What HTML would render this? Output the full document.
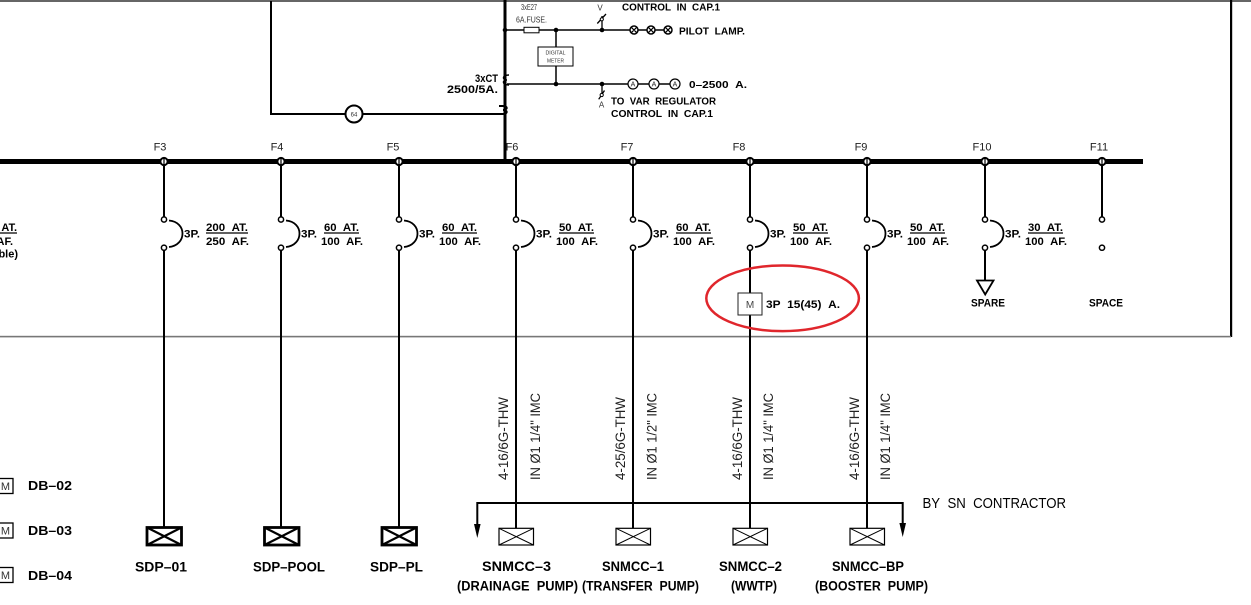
<!DOCTYPE html>
<html><head><meta charset="utf-8">
<style>
html,body{margin:0;padding:0;background:#fff;}
svg{display:block;}
text{font-family:"Liberation Sans",Arial,sans-serif;}
.b{font-weight:bold;fill:#000;}
.r{fill:#222;}
.ln{stroke:#000;fill:none;}
</style></head><body>
<svg width="1251" height="605" viewBox="0 0 1251 605" xmlns="http://www.w3.org/2000/svg">
<rect width="1251" height="605" fill="#fff"/>

<!-- frame -->
<rect x="0" y="0" width="1251" height="2" fill="#666"/>
<rect x="1230" y="0" width="2.2" height="337" fill="#000"/>
<rect x="0" y="335.8" width="1231" height="1.6" fill="#777"/>

<!-- feeder labels (drawn before main vertical so F6 is overlapped) -->
<g font-size="11" class="r" text-anchor="middle">
<text x="160" y="150.5">F3</text>
<text x="277" y="150.5">F4</text>
<text x="393" y="150.5">F5</text>
<text x="512" y="150.5">F6</text>
<text x="627" y="150.5">F7</text>
<text x="739" y="150.5">F8</text>
<text x="861" y="150.5">F9</text>
<text x="982" y="150.5">F10</text>
<text x="1099" y="150.5">F11</text>
</g>

<!-- bus -->
<rect x="0" y="159" width="1143" height="5" fill="#000"/>

<!-- upper left loop with 64 relay -->
<path class="ln" stroke-width="2" d="M271,1 V114 H503"/>
<circle cx="354" cy="114" r="8.5" fill="#fff" stroke="#000" stroke-width="2"/>
<text x="354" y="116.3" font-size="6" text-anchor="middle" fill="#333">64</text>

<!-- main vertical -->
<rect x="503.5" y="0" width="3" height="161" fill="#000"/>
<path class="ln" stroke-width="2" d="M499,106 H503 C508,106 508,110 503,110 C508,110 508,114 503,114 H499"/>

<!-- top circuit y=30 -->
<path class="ln" stroke-width="1.5" d="M505,30 H524 M539,30 H668"/>
<rect x="524" y="27.3" width="15" height="5.5" fill="#fff" stroke="#000" stroke-width="1"/>
<text x="529" y="10" font-size="8" fill="#333" text-anchor="middle" textLength="16" lengthAdjust="spacingAndGlyphs">3xE27</text>
<text x="531.5" y="22.5" font-size="8" fill="#333" text-anchor="middle" textLength="31" lengthAdjust="spacingAndGlyphs">6A.FUSE.</text>
<!-- digital meter -->
<path class="ln" stroke-width="1.5" d="M556,30 V84"/>
<rect x="538" y="47" width="35" height="19" fill="#fff" stroke="#000" stroke-width="1"/>
<text x="555.5" y="54.3" font-size="5.5" fill="#333" text-anchor="middle" textLength="20" lengthAdjust="spacingAndGlyphs">DIGITAL</text>
<text x="555.5" y="62.3" font-size="5.5" fill="#333" text-anchor="middle" textLength="17" lengthAdjust="spacingAndGlyphs">METER</text>
<!-- V meter -->
<path class="ln" stroke-width="1.3" d="M602,30 V16 M597.3,23.5 L606,14"/>
<circle cx="601.8" cy="19.3" r="1.6" fill="#fff" stroke="#000" stroke-width="1"/>
<text x="600" y="10.5" font-size="8" fill="#333" text-anchor="middle">V</text>
<!-- pilot lamps -->
<g stroke="#000" stroke-width="1.5" fill="#fff">
<circle cx="634" cy="30" r="4"/><circle cx="651" cy="30" r="4"/><circle cx="668" cy="30" r="4"/>
</g>
<path class="ln" stroke-width="1.2" d="M631.2,27.2 l5.6,5.6 M636.8,27.2 l-5.6,5.6 M648.2,27.2 l5.6,5.6 M653.8,27.2 l-5.6,5.6 M665.2,27.2 l5.6,5.6 M670.8,27.2 l-5.6,5.6"/>
<text x="622" y="10.5" font-size="10.5" class="b" textLength="98" lengthAdjust="spacingAndGlyphs">CONTROL&#160;&#160;IN&#160;&#160;CAP.1</text>
<text x="679" y="34.5" font-size="10.5" class="b" textLength="66" lengthAdjust="spacingAndGlyphs">PILOT&#160;&#160;LAMP.</text>

<!-- CT & ammeter line y=84 -->
<path class="ln" stroke-width="1.5" d="M509,75 C502,75 502,80 507,80 C502,80 502,85 509,85"/>
<path class="ln" stroke-width="1.5" d="M507,84 H675"/>
<g stroke="#000" stroke-width="1.2" fill="#fff">
<circle cx="633" cy="84" r="5"/><circle cx="654" cy="84" r="5"/><circle cx="675" cy="84" r="5"/>
</g>
<g font-size="7" fill="#222" text-anchor="middle">
<text x="633" y="86.5">A</text><text x="654" y="86.5">A</text><text x="675" y="86.5">A</text>
</g>
<text x="498" y="82" font-size="11" class="b" text-anchor="end" textLength="23" lengthAdjust="spacingAndGlyphs">3xCT</text>
<text x="498" y="93" font-size="11" class="b" text-anchor="end" textLength="51" lengthAdjust="spacingAndGlyphs">2500/5A.</text>
<text x="689" y="88" font-size="10.5" class="b" textLength="58" lengthAdjust="spacingAndGlyphs">0–2500&#160;&#160;A.</text>
<!-- A meter -->
<path class="ln" stroke-width="1.3" d="M602,84 V97 M598.7,99.3 L604.5,90.5"/>
<circle cx="601.7" cy="95" r="1.6" fill="#fff" stroke="#000" stroke-width="1"/>
<text x="601.5" y="107.5" font-size="8" fill="#333" text-anchor="middle">A</text>
<text x="611" y="104.3" font-size="10.5" class="b" textLength="105" lengthAdjust="spacingAndGlyphs">TO&#160;&#160;VAR&#160;&#160;REGULATOR</text>
<text x="611" y="116.8" font-size="10.5" class="b" textLength="102" lengthAdjust="spacingAndGlyphs">CONTROL&#160;&#160;IN&#160;&#160;CAP.1</text>
<g fill="#000">
<circle cx="505" cy="30" r="2.3"/><circle cx="556" cy="30" r="2.3"/><circle cx="602" cy="30" r="2.3"/>
<circle cx="556" cy="84" r="2.3"/><circle cx="602" cy="84" r="2.3"/>
</g>

<!-- left cut-off label -->
<g class="b" font-size="11" text-anchor="end">
<text x="17" y="231">AT.</text>
<text x="13" y="245">AF.</text>
<text x="18" y="257.5" style="font-weight:bold">ble)</text>
</g>
<line x1="0" y1="233" x2="17" y2="233" stroke="#000" stroke-width="1.2"/>

<!-- feeder vertical lines -->
<g stroke="#000" stroke-width="2" fill="none">
<path d="M164,161 V217 M164,250 V527"/>
<path d="M281,161 V217 M281,250 V527"/>
<path d="M399,161 V217 M399,250 V527"/>
<path d="M516,161 V217 M516,250 V528"/>
<path d="M633,161 V217 M633,250 V528"/>
<path d="M750,161 V217 M750,250 V528"/>
<path d="M867,161 V217 M867,250 V528"/>
<path d="M985,161 V217 M985,250 V281"/>
<path d="M1102,161 V217"/>
</g>

<!-- bus dots -->
<g fill="#fff" stroke="#000" stroke-width="2">
<circle cx="164" cy="161.5" r="3.6"/><circle cx="281" cy="161.5" r="3.6"/><circle cx="399" cy="161.5" r="3.6"/>
<circle cx="516" cy="161.5" r="3.6"/><circle cx="633" cy="161.5" r="3.6"/><circle cx="750" cy="161.5" r="3.6"/>
<circle cx="867" cy="161.5" r="3.6"/><circle cx="985" cy="161.5" r="3.6"/><circle cx="1102" cy="161.5" r="3.6"/>
</g>
<g stroke="#000" stroke-width="1.2">
<line x1="164" y1="158" x2="164" y2="165"/><line x1="281" y1="158" x2="281" y2="165"/><line x1="399" y1="158" x2="399" y2="165"/>
<line x1="516" y1="158" x2="516" y2="165"/><line x1="633" y1="158" x2="633" y2="165"/><line x1="750" y1="158" x2="750" y2="165"/>
<line x1="867" y1="158" x2="867" y2="165"/><line x1="985" y1="158" x2="985" y2="165"/><line x1="1102" y1="158" x2="1102" y2="165"/>
</g>

<!-- breaker arcs -->
<g class="ln" stroke-width="1.8">
<path d="M169,220.5 C187,222 187,245 169,247"/>
<path d="M286,220.5 C304,222 304,245 286,247"/>
<path d="M404,220.5 C422,222 422,245 404,247"/>
<path d="M521,220.5 C539,222 539,245 521,247"/>
<path d="M638,220.5 C656,222 656,245 638,247"/>
<path d="M755,220.5 C773,222 773,245 755,247"/>
<path d="M872,220.5 C890,222 890,245 872,247"/>
<path d="M990,220.5 C1008,222 1008,245 990,247"/>
</g>
<!-- breaker circles -->
<g fill="#fff" stroke="#000" stroke-width="1.5">
<circle cx="164" cy="219.5" r="2.6"/><circle cx="164" cy="247.7" r="2.6"/>
<circle cx="281" cy="219.5" r="2.6"/><circle cx="281" cy="247.7" r="2.6"/>
<circle cx="399" cy="219.5" r="2.6"/><circle cx="399" cy="247.7" r="2.6"/>
<circle cx="516" cy="219.5" r="2.6"/><circle cx="516" cy="247.7" r="2.6"/>
<circle cx="633" cy="219.5" r="2.6"/><circle cx="633" cy="247.7" r="2.6"/>
<circle cx="750" cy="219.5" r="2.6"/><circle cx="750" cy="247.7" r="2.6"/>
<circle cx="867" cy="219.5" r="2.6"/><circle cx="867" cy="247.7" r="2.6"/>
<circle cx="985" cy="219.5" r="2.6"/><circle cx="985" cy="247.7" r="2.6"/>
<circle cx="1102" cy="219.5" r="2.6"/><circle cx="1102" cy="247.7" r="2.6"/>
</g>

<!-- breaker texts -->
<g class="b" font-size="11">
<text x="184" y="237.5" textLength="16" lengthAdjust="spacingAndGlyphs">3P.</text>
<text x="206" y="231" textLength="42" lengthAdjust="spacingAndGlyphs">200&#160;&#160;AT.</text>
<text x="206" y="245" textLength="43" lengthAdjust="spacingAndGlyphs">250&#160;&#160;AF.</text>

<text x="301" y="237.5" textLength="16" lengthAdjust="spacingAndGlyphs">3P.</text>
<text x="324" y="231" textLength="35" lengthAdjust="spacingAndGlyphs">60&#160;&#160;AT.</text>
<text x="321" y="245" textLength="42" lengthAdjust="spacingAndGlyphs">100&#160;&#160;AF.</text>

<text x="419" y="237.5" textLength="16" lengthAdjust="spacingAndGlyphs">3P.</text>
<text x="442" y="231" textLength="35" lengthAdjust="spacingAndGlyphs">60&#160;&#160;AT.</text>
<text x="439" y="245" textLength="42" lengthAdjust="spacingAndGlyphs">100&#160;&#160;AF.</text>

<text x="536" y="237.5" textLength="16" lengthAdjust="spacingAndGlyphs">3P.</text>
<text x="559" y="231" textLength="35" lengthAdjust="spacingAndGlyphs">50&#160;&#160;AT.</text>
<text x="556" y="245" textLength="42" lengthAdjust="spacingAndGlyphs">100&#160;&#160;AF.</text>

<text x="653" y="237.5" textLength="16" lengthAdjust="spacingAndGlyphs">3P.</text>
<text x="676" y="231" textLength="35" lengthAdjust="spacingAndGlyphs">60&#160;&#160;AT.</text>
<text x="673" y="245" textLength="42" lengthAdjust="spacingAndGlyphs">100&#160;&#160;AF.</text>

<text x="770" y="237.5" textLength="16" lengthAdjust="spacingAndGlyphs">3P.</text>
<text x="793" y="231" textLength="35" lengthAdjust="spacingAndGlyphs">50&#160;&#160;AT.</text>
<text x="790" y="245" textLength="42" lengthAdjust="spacingAndGlyphs">100&#160;&#160;AF.</text>

<text x="887" y="237.5" textLength="16" lengthAdjust="spacingAndGlyphs">3P.</text>
<text x="910" y="231" textLength="35" lengthAdjust="spacingAndGlyphs">50&#160;&#160;AT.</text>
<text x="907" y="245" textLength="42" lengthAdjust="spacingAndGlyphs">100&#160;&#160;AF.</text>

<text x="1005" y="237.5" textLength="16" lengthAdjust="spacingAndGlyphs">3P.</text>
<text x="1028" y="231" textLength="35" lengthAdjust="spacingAndGlyphs">30&#160;&#160;AT.</text>
<text x="1025" y="245" textLength="42" lengthAdjust="spacingAndGlyphs">100&#160;&#160;AF.</text>
</g>
<g stroke="#000" stroke-width="1.2">
<line x1="206" y1="233" x2="248" y2="233"/>
<line x1="324" y1="233" x2="359" y2="233"/>
<line x1="442" y1="233" x2="477" y2="233"/>
<line x1="559" y1="233" x2="594" y2="233"/>
<line x1="676" y1="233" x2="711" y2="233"/>
<line x1="793" y1="233" x2="828" y2="233"/>
<line x1="910" y1="233" x2="945" y2="233"/>
<line x1="1028" y1="233" x2="1063" y2="233"/>
</g>

<!-- F8 motor protector -->
<rect x="738" y="293" width="24" height="22" fill="#fff" stroke="#222" stroke-width="1"/>
<text x="750" y="308" font-size="10" fill="#444" text-anchor="middle">M</text>
<text x="766" y="308" font-size="11" class="b" textLength="74" lengthAdjust="spacingAndGlyphs">3P&#160;&#160;15(45)&#160;&#160;A.</text>
<ellipse cx="782.6" cy="298.3" rx="76.3" ry="32.8" fill="none" stroke="#e0262c" stroke-width="2.5"/>

<!-- spare / space -->
<polygon points="977,280.5 993.5,280.5 985.2,294.5" fill="#fff" stroke="#000" stroke-width="1.8"/>
<text x="971" y="306.5" font-size="11" class="b" textLength="34" lengthAdjust="spacingAndGlyphs">SPARE</text>
<text x="1089" y="306.5" font-size="11" class="b" textLength="34" lengthAdjust="spacingAndGlyphs">SPACE</text>

<!-- vertical cable texts -->
<g font-size="14" class="r">
<text transform="translate(508,480) rotate(-90)" textLength="83" lengthAdjust="spacingAndGlyphs">4-16/6G-THW</text>
<text transform="translate(540,480) rotate(-90)" textLength="87" lengthAdjust="spacingAndGlyphs">IN Ø1 1/4&quot; IMC</text>
<text transform="translate(625,480) rotate(-90)" textLength="83" lengthAdjust="spacingAndGlyphs">4-25/6G-THW</text>
<text transform="translate(656.5,480) rotate(-90)" textLength="87" lengthAdjust="spacingAndGlyphs">IN Ø1 1/2&quot; IMC</text>
<text transform="translate(742,480) rotate(-90)" textLength="83" lengthAdjust="spacingAndGlyphs">4-16/6G-THW</text>
<text transform="translate(773,480) rotate(-90)" textLength="87" lengthAdjust="spacingAndGlyphs">IN Ø1 1/4&quot; IMC</text>
<text transform="translate(859,480) rotate(-90)" textLength="83" lengthAdjust="spacingAndGlyphs">4-16/6G-THW</text>
<text transform="translate(890,480) rotate(-90)" textLength="87" lengthAdjust="spacingAndGlyphs">IN Ø1 1/4&quot; IMC</text>
</g>

<!-- BY SN CONTRACTOR bracket -->
<path class="ln" stroke-width="2" d="M477.3,525 V503 H902.7 V525"/>
<polygon points="474,524 480.6,524 477.3,538" fill="#000"/>
<polygon points="899.4,523 906,523 902.7,537" fill="#000"/>
<text x="922.5" y="508" font-size="15" fill="#000" textLength="143.5" lengthAdjust="spacingAndGlyphs">BY&#160;&#160;SN&#160;&#160;CONTRACTOR</text>

<!-- SDP boxes (thick) -->
<g fill="#fff" stroke="#000" stroke-width="2.8">
<rect x="147" y="527.5" width="34.5" height="17.5"/>
<rect x="264.5" y="527.5" width="34.5" height="17.5"/>
<rect x="382" y="527.5" width="34.5" height="17.5"/>
</g>
<g stroke="#000" stroke-width="2.2">
<path d="M147,527.5 L181.5,545 M181.5,527.5 L147,545"/>
<path d="M264.5,527.5 L299,545 M299,527.5 L264.5,545"/>
<path d="M382,527.5 L416.5,545 M416.5,527.5 L382,545"/>
</g>

<!-- SNMCC boxes (thin) -->
<g fill="#fff" stroke="#000" stroke-width="1.2">
<rect x="499" y="528.3" width="34.5" height="16.7"/>
<rect x="616" y="528.3" width="34.5" height="16.7"/>
<rect x="733" y="528.3" width="34.5" height="16.7"/>
<rect x="850" y="528.3" width="34.5" height="16.7"/>
</g>
<g stroke="#000" stroke-width="1">
<path d="M499,528.3 L533.5,545 M533.5,528.3 L499,545"/>
<path d="M616,528.3 L650.5,545 M650.5,528.3 L616,545"/>
<path d="M733,528.3 L767.5,545 M767.5,528.3 L733,545"/>
<path d="M850,528.3 L884.5,545 M884.5,528.3 L850,545"/>
</g>

<!-- bottom labels -->
<g class="b" font-size="13.5">
<text x="135" y="571.5" textLength="52" lengthAdjust="spacingAndGlyphs">SDP–01</text>
<text x="253" y="571.5" textLength="72" lengthAdjust="spacingAndGlyphs">SDP–POOL</text>
<text x="370" y="571.5" textLength="53" lengthAdjust="spacingAndGlyphs">SDP–PL</text>
<text x="482" y="571" textLength="69" lengthAdjust="spacingAndGlyphs">SNMCC–3</text>
<text x="457" y="590.5" textLength="121" lengthAdjust="spacingAndGlyphs">(DRAINAGE&#160;&#160;PUMP)</text>
<text x="602" y="571" textLength="62" lengthAdjust="spacingAndGlyphs">SNMCC–1</text>
<text x="582" y="590.5" textLength="117" lengthAdjust="spacingAndGlyphs">(TRANSFER&#160;&#160;PUMP)</text>
<text x="719" y="571" textLength="63" lengthAdjust="spacingAndGlyphs">SNMCC–2</text>
<text x="731" y="590.5" textLength="46" lengthAdjust="spacingAndGlyphs">(WWTP)</text>
<text x="832" y="571" textLength="72" lengthAdjust="spacingAndGlyphs">SNMCC–BP</text>
<text x="815" y="590.5" textLength="113" lengthAdjust="spacingAndGlyphs">(BOOSTER&#160;&#160;PUMP)</text>
</g>

<!-- DB labels left -->
<g fill="#fff" stroke="#000" stroke-width="1.3">
<rect x="-3" y="478.5" width="16" height="15"/>
<rect x="-3" y="523" width="16" height="15"/>
<rect x="-3" y="567.5" width="16" height="15"/>
</g>
<g font-size="11" fill="#333" text-anchor="middle">
<text x="5.5" y="490">M</text>
<text x="5.5" y="534.5">M</text>
<text x="5.5" y="579">M</text>
</g>
<g class="b" font-size="13">
<text x="28" y="490" textLength="44" lengthAdjust="spacingAndGlyphs">DB–02</text>
<text x="28" y="535" textLength="44" lengthAdjust="spacingAndGlyphs">DB–03</text>
<text x="28" y="580" textLength="44" lengthAdjust="spacingAndGlyphs">DB–04</text>
</g>
</svg>
</body></html>
